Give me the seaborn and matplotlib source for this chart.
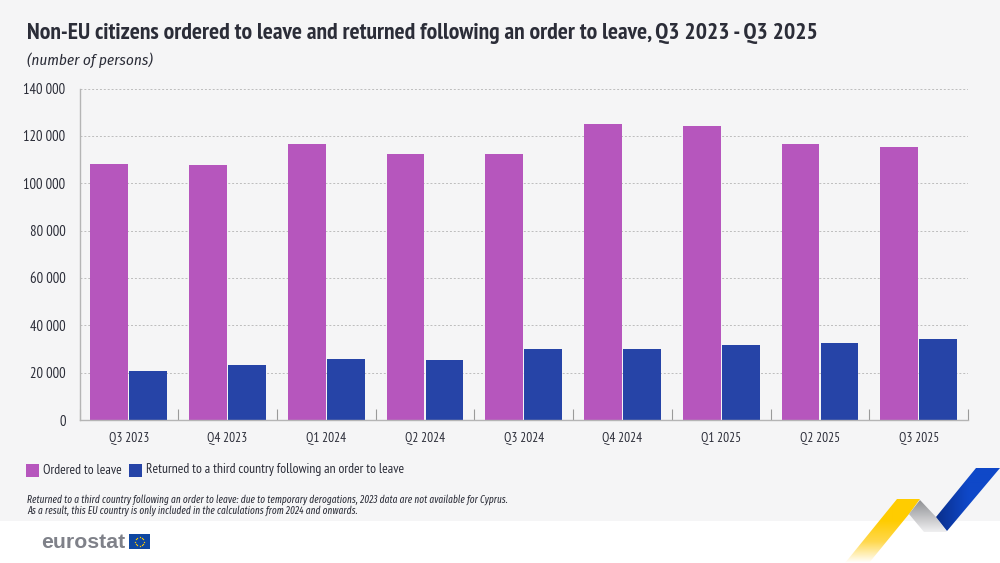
import numpy as np
import pandas as pd
import matplotlib
matplotlib.use("Agg")
import matplotlib.pyplot as plt
import matplotlib.font_manager as fm
from matplotlib.patches import Polygon, Rectangle
from matplotlib.colors import LinearSegmentedColormap
from matplotlib.ticker import FuncFormatter
import seaborn as sns

# data
quarters = ["Q3 2023", "Q4 2023", "Q1 2024", "Q2 2024", "Q3 2024",
            "Q4 2024", "Q1 2025", "Q2 2025", "Q3 2025"]
ordered = [108200, 107500, 116600, 112400, 112300, 125200, 124200, 116400, 115500]
returned = [20700, 23100, 25800, 25200, 29800, 30000, 31800, 32400, 34200]
series_names = ["Ordered to leave", "Returned to a third country following an order to leave"]
y_ticks = [0, 20000, 40000, 60000, 80000, 100000, 120000, 140000]

title = "Non-EU citizens ordered to leave and returned following an order to leave, Q3 2023 - Q3 2025"
subtitle = "(number of persons)"
note = ("Returned to a third country following an order to leave: due to temporary derogations, 2023 data are not available for Cyprus.\n"
        "As a result, this EU country is only included in the calculations from 2024 and onwards.")

BG = "#f5f5f6"
TXT = "#2b2d38"
PURPLE = "#b656bd"
BLUE = "#2644a7"

sns.set_theme(style="white")
# condensed faces if the machine has them, Lato otherwise
have = {f.name for f in fm.fontManager.ttflist}


def pick(*cands):
    return [c for c in cands if c in have][0]


main_font = pick("PT Sans Narrow", "Fira Sans Condensed", "Lato")
italic_font = pick("Fira Sans Condensed", "Lato")
note_font = pick("Fira Sans Extra Condensed", "Fira Sans Condensed", "Lato")
plt.rcParams["font.family"] = [main_font, "DejaVu Sans"]

df = pd.DataFrame({
    "quarter": quarters * 2,
    "value": ordered + returned,
    "series": [series_names[0]] * 9 + [series_names[1]] * 9,
})

fig = plt.figure(figsize=(10, 5.63), dpi=100, facecolor="white")

# page background and decorations, in pixel coordinates
bg = fig.add_axes([0, 0, 1, 1], zorder=0)
bg.set_xlim(0, 1000)
bg.set_ylim(563, 0)
bg.axis("off")
bg.add_patch(Rectangle((0, 0), 1000, 521, color=BG, lw=0))

ax = fig.add_axes([79.5 / 1000, 1 - 420 / 563, 888.5 / 1000, 331.5 / 563], zorder=1)
ax.patch.set_alpha(0)
sns.barplot(data=df, x="quarter", y="value", hue="series", order=quarters,
            hue_order=series_names, palette=[PURPLE, BLUE], width=0.79, gap=0.03,
            saturation=1, legend=False, linewidth=0, ax=ax)

ax.set_xlim(-0.5, 8.5)
ax.set_ylim(0, 140000)
ax.set_xlabel("")
ax.set_ylabel("")
ax.set_yticks(y_ticks)
ax.yaxis.set_major_formatter(FuncFormatter(lambda v, _: f"{int(v):,}".replace(",", " ")))
ax.grid(axis="y", color="#bdbdbd", linestyle=(0, (2, 2)), linewidth=0.7)
ax.set_axisbelow(True)
for s in ["top", "right"]:
    ax.spines[s].set_visible(False)
for s in ["left", "bottom"]:
    ax.spines[s].set_color("#b5b5b5")
    ax.spines[s].set_linewidth(1)

# ticks sit between the groups and point upwards
ax.set_xticks(np.arange(-0.5, 9, 1), minor=True)
ax.tick_params(axis="x", which="minor", bottom=True, direction="in", length=8, width=0.8, color="#9a9a9a")
ax.tick_params(axis="x", which="major", length=0, pad=8.5, labelsize=9.5, labelcolor=TXT)
ax.tick_params(axis="y", which="major", length=0, pad=10, labelsize=10.5, labelcolor=TXT)

# text
bg.text(27, 33, title, fontsize=17, fontweight="bold", color=TXT, va="center", ha="left")
bg.text(27, 60, subtitle, fontsize=11, style="italic", family=[italic_font], color=TXT, va="center", ha="left")

bg.add_patch(Rectangle((26, 464), 12.5, 13, color=PURPLE, lw=0))
bg.text(43, 470, series_names[0], fontsize=9.8, color=TXT, va="center", ha="left")
bg.add_patch(Rectangle((129, 464), 12.5, 13, color=BLUE, lw=0))
bg.text(146, 470, series_names[1], fontsize=9.8, color=TXT, va="center", ha="left")

bg.text(27, 505, note, fontsize=7.3, style="italic", family=[note_font], color=TXT,
        va="center", ha="left", linespacing=0.95)

# eurostat logo
bg.text(41, 542, "eurostat", fontsize=15.3, fontweight="bold", family=["Liberation Sans"],
        color="#7f8189", va="center", ha="left")
bg.add_patch(Rectangle((129, 534), 21, 15, color="#0e47a1", lw=0))
theta = np.arange(12) * np.pi / 6
bg.scatter(139.5 + 4.5 * np.cos(theta), 541.5 + 4.5 * np.sin(theta), s=1, color="#ffcc00", lw=0)


def ribbon(points, colors, box, vertical=False):
    # gradient filled polygon, clipped with imshow
    cmap = LinearSegmentedColormap.from_list("r", colors)
    grad = np.linspace(0, 1, 128)
    grad = grad[:, None] if vertical else grad[None, :]
    im = bg.imshow(grad, extent=box, origin="upper", cmap=cmap, aspect="auto", zorder=3, interpolation="bilinear")
    poly = Polygon(points, closed=True, transform=bg.transData, fc="none", ec="none")
    bg.add_patch(poly)
    im.set_clip_path(poly)


# extent is left, right, bottom, top; first row of the gradient goes to the top
ribbon([(897, 499), (920, 499), (909, 514), (869, 563), (845, 563)],
       ["#ffcc00", "#ffcc00", "#ffd84d", "#ffffff"], (845, 920, 563, 499), vertical=True)
ribbon([(920, 500), (936, 517), (947, 532), (924, 532), (909, 514)],
       ["#8f9094", "#f0f0f1"], (909, 947, 532, 500), vertical=True)
ribbon([(976, 468), (1000, 468), (947, 531), (936, 517)],
       ["#0a2f8c", "#0f48c8", "#0f48c8"], (936, 1000, 563, 468), vertical=False)
bg.set_xlim(0, 1000)
bg.set_ylim(563, 0)

fig.savefig("out.png", dpi=100, facecolor="white")
